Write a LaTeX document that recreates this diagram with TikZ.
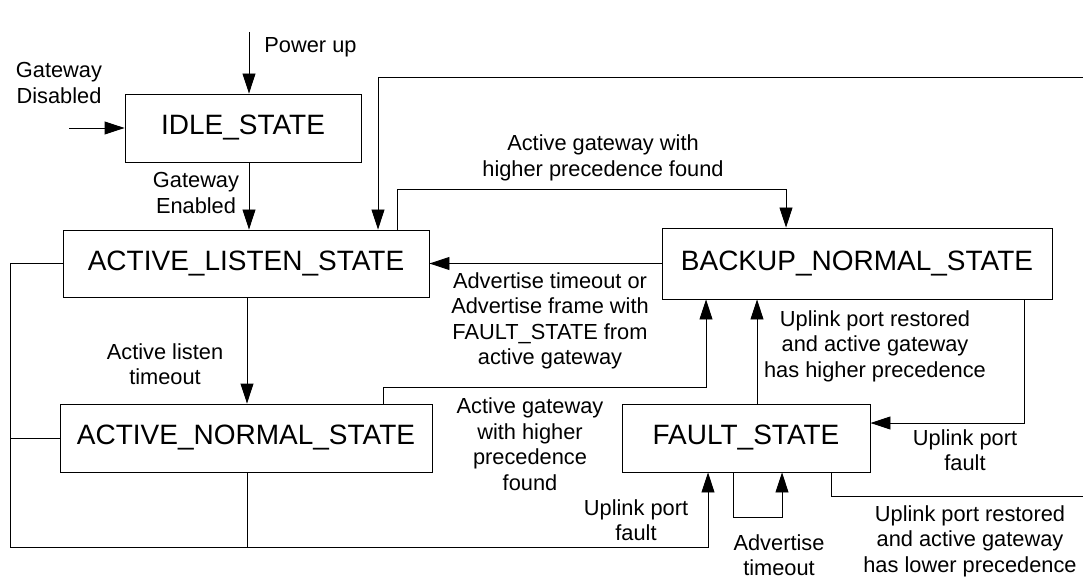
\documentclass[tikz,border=0pt]{standalone}
\usepackage{fontspec}
\setmainfont{Liberation Sans}
\usetikzlibrary{arrows.meta}
\begin{document}
\begin{tikzpicture}[x=1pt,y=-1pt,
  line width=0.9pt,
  statebox/.style={draw, rectangle, inner sep=0pt, font=\fontsize{28}{32}\selectfont},
  lbl/.style={align=center, inner sep=0pt, font=\fontsize{21.8}{25.5}\selectfont},
  arr/.style={-{Triangle[length=20pt,width=13pt]}}]
\useasboundingbox (0,0) rectangle (1083,577);
% states
\node[statebox, minimum width=236pt, minimum height=68pt] (idle) at (243,128) {IDLE\_STATE};
\node[statebox, minimum width=366pt, minimum height=67pt] (als) at (246,263.5) {ACTIVE\_LISTEN\_STATE};
\node[statebox, minimum width=372pt, minimum height=68pt] (ans) at (246,438) {ACTIVE\_NORMAL\_STATE};
\node[statebox, minimum width=390pt, minimum height=71pt] (bns) at (857,263.5) {BACKUP\_NORMAL\_STATE};
\node[statebox, minimum width=248pt, minimum height=68pt] (fault) at (746,438) {FAULT\_STATE};
% helper coordinates
\coordinate (pu) at (249,32);
\coordinate (gd) at (69,128);
\coordinate (tr) at (1083,77);
\coordinate (tl) at (378,77);
\coordinate (a1) at (397,189);
\coordinate (a2) at (786,189);
\coordinate (c247) at (247,0);
\coordinate (bl) at (10,547);
\coordinate (br) at (708,547);
\coordinate (n1) at (383,387);
\coordinate (n2) at (706,387);
\coordinate (c757) at (757,0);
\coordinate (r1) at (1024,423);
\coordinate (s1) at (733,517);
\coordinate (s2) at (782,517);
\coordinate (f1) at (831,496);
\coordinate (f2) at (1083,496);
% connectors
\draw[arr] (pu) -- (pu |- idle.north);
\draw[arr] (gd) -- (idle.west);
\draw[arr] (idle.south -| pu) -- (als.north -| pu);
\draw[arr] (tr) -- (tl) -- (tl |- als.north);
\draw[arr] (a1 |- als.north) -- (a1) -- (a2) -- (a2 |- bns.north);
\draw[arr] (bns.west) -- (als.east);
\draw[arr] (als.south -| c247) -- (ans.north -| c247);
\draw (als.west) -| (bl);
\draw (ans.west) -- (ans.west -| bl);
\draw (ans.south -| c247) -- (c247 |- bl);
\draw[arr] (bl) -- (br) -- (br |- fault.south);
\draw[arr] (n1 |- ans.north) -- (n1) -- (n2) -- (n2 |- bns.south);
\draw[arr] (fault.north -| c757) -- (bns.south -| c757);
\draw[arr] (bns.south -| r1) -- (r1) -- (r1 -| fault.east);
\draw[arr] (fault.south -| s1) -- (s1) -- (s2) -- (s2 |- fault.south);
\draw (fault.south -| f1) -- (f1) -- (f2);
% labels
\node[lbl, anchor=west] (tpu) at (264,47) {Power up};
\node[lbl] (tgd) at (59,83) {Gateway\\Disabled};
\node[lbl] (tge) at (196,193) {Gateway\\Enabled};
\node[lbl] (tag) at (603,158) {Active gateway with\\higher precedence found};
\node[lbl] (tat) at (550,321) {Advertise timeout or\\Advertise frame with\\FAULT\_STATE from\\active gateway};
\node[lbl] (tal) at (165,364) {Active listen\\timeout};
\node[lbl] (tur) at (875,346) {Uplink port restored\\and active gateway\\has higher precedence};
\node[lbl] (tah) at (530,444) {Active gateway\\with higher\\precedence\\found};
\node[lbl] (tuf) at (965,450) {Uplink port\\fault};
\node[lbl] (tuf2) at (636,520) {Uplink port\\fault};
\node[lbl] (tadv) at (779,555) {Advertise\\timeout};
\node[lbl] (tul) at (970,541) {Uplink port restored\\and active gateway\\has lower precedence};
\end{tikzpicture}
\end{document}
